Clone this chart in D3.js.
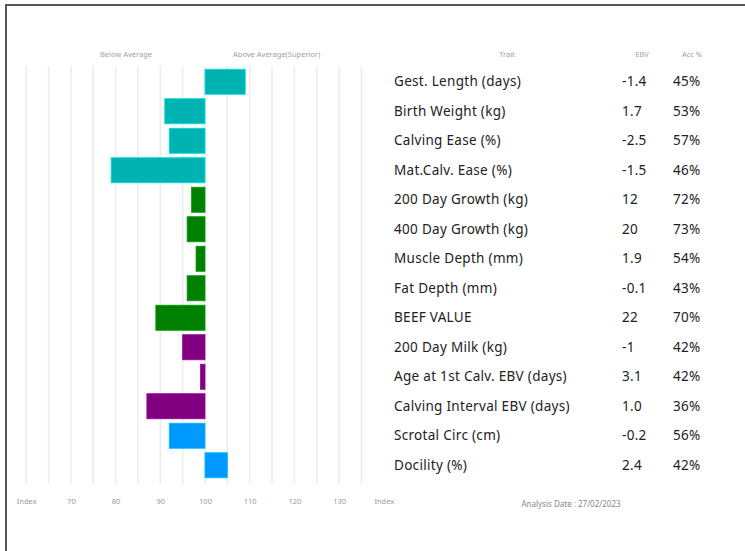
<!DOCTYPE html>
<html>
<head>
<meta charset="utf-8">
<script src="https://cdn.jsdelivr.net/npm/d3@7"></script>
<style>
  body { margin: 0; background: #fff; }
  svg { display: block; }
</style>
</head>
<body>
<svg class="chart" width="745" height="551"></svg>
<script>
// Chart data
const traits = ["Gest. Length (days)", "Birth Weight (kg)", "Calving Ease (%)", "Mat.Calv. Ease (%)",
  "200 Day Growth (kg)", "400 Day Growth (kg)", "Muscle Depth (mm)", "Fat Depth (mm)", "BEEF VALUE",
  "200 Day Milk (kg)", "Age at 1st Calv. EBV (days)", "Calving Interval EBV (days)", "Scrotal Circ (cm)", "Docility (%)"];
const ebv = ["-1.4", "1.7", "-2.5", "-1.5", "12", "20", "1.9", "-0.1", "22", "-1", "3.1", "1.0", "-0.2", "2.4"];
const acc = ["45%", "53%", "57%", "46%", "72%", "73%", "54%", "43%", "70%", "42%", "42%", "36%", "56%", "42%"];
const indexValues = [109, 91, 92, 79, 97, 96, 98, 96, 89, 95, 99, 87, 92, 105];
const groups = ["calving", "calving", "calving", "calving", "growth", "growth", "growth", "growth", "growth",
  "maternal", "maternal", "maternal", "other", "other"];
const tickValues = [60, 70, 80, 90, 100, 110, 120, 130, 140];
const gridValues = d3.range(60, 136, 5);

const svg = d3.select(".chart");
const font = "'Noto Sans', sans-serif";

const colour = d3.scaleOrdinal()
  .domain(["calving", "growth", "maternal", "other"])
  .range(["#00b3b3", "#008000", "#800080", "#0099ff"]);

const x = d3.scaleLinear().domain([60, 140]).range([26.2, 383.8]);
const y = d3.scaleBand().domain(traits).range([67, 480]).paddingInner(0.15).paddingOuter(0.075);

// frame (top and left only)
svg.append("path")
  .attr("d", "M6,551V5H745")
  .attr("fill", "none")
  .attr("stroke", "#555")
  .attr("stroke-width", 2);

// grid lines
svg.append("g").selectAll("line")
  .data(gridValues)
  .join("line")
  .attr("x1", d => x(d)).attr("x2", d => x(d))
  .attr("y1", 66).attr("y2", 484)
  .attr("stroke", "#ececec")
  .attr("stroke-width", 1.5);

// bars from index 100
svg.append("g").selectAll("rect")
  .data(indexValues)
  .join("rect")
  .attr("x", d => x(Math.min(d, 100)))
  .attr("width", d => Math.abs(x(d) - x(100)))
  .attr("y", (d, i) => y(traits[i]))
  .attr("height", y.bandwidth())
  .attr("fill", (d, i) => colour(groups[i]))
  .attr("stroke", (d, i) => d3.color(colour(groups[i])).brighter(0.6))
  .attr("stroke-width", 0.8);

// bottom axis labels
const axis = d3.axisBottom(x)
  .tickValues(tickValues)
  .tickSize(0)
  .tickFormat(d => (d === 60 || d === 140) ? "Index" : d);
const ax = svg.append("g").attr("transform", "translate(0,496)").call(axis);
ax.select(".domain").remove();
ax.selectAll("text")
  .attr("fill", "#999")
  .style("font-family", font)
  .style("font-size", "7.5px");

// headers
const header = (txt, hx, anchor) => svg.append("text")
  .attr("x", hx).attr("y", 57)
  .attr("text-anchor", anchor)
  .attr("fill", "#a0a0a0")
  .style("font-family", font)
  .style("font-size", "7.5px")
  .text(txt);
header("Below Average", 100, "start");
header("Above Average(Superior)", 233, "start");
header("Trait", 507, "middle");
header("EBV", 642, "middle");
header("Acc %", 692, "middle");

// table columns
const rows = svg.append("g").selectAll("g")
  .data(traits)
  .join("g")
  .attr("transform", d => `translate(0,${y(d) + y.bandwidth() / 2})`)
  .style("font-family", font)
  .style("font-size", "13.5px")
  .style("letter-spacing", "0.3px")
  .attr("fill", "#222");

rows.append("text").attr("x", 394).attr("dy", "0.35em").text(d => d);
rows.append("text").attr("x", 622).attr("dy", "0.35em").text((d, i) => ebv[i]);
rows.append("text").attr("x", 673).attr("dy", "0.35em").text((d, i) => acc[i]);

svg.append("text")
  .attr("x", 571).attr("y", 507)
  .attr("text-anchor", "middle")
  .attr("fill", "#888")
  .style("font-family", font)
  .style("font-size", "8px")
  .text("Analysis Date : 27/02/2023");
</script>
</body>
</html>
